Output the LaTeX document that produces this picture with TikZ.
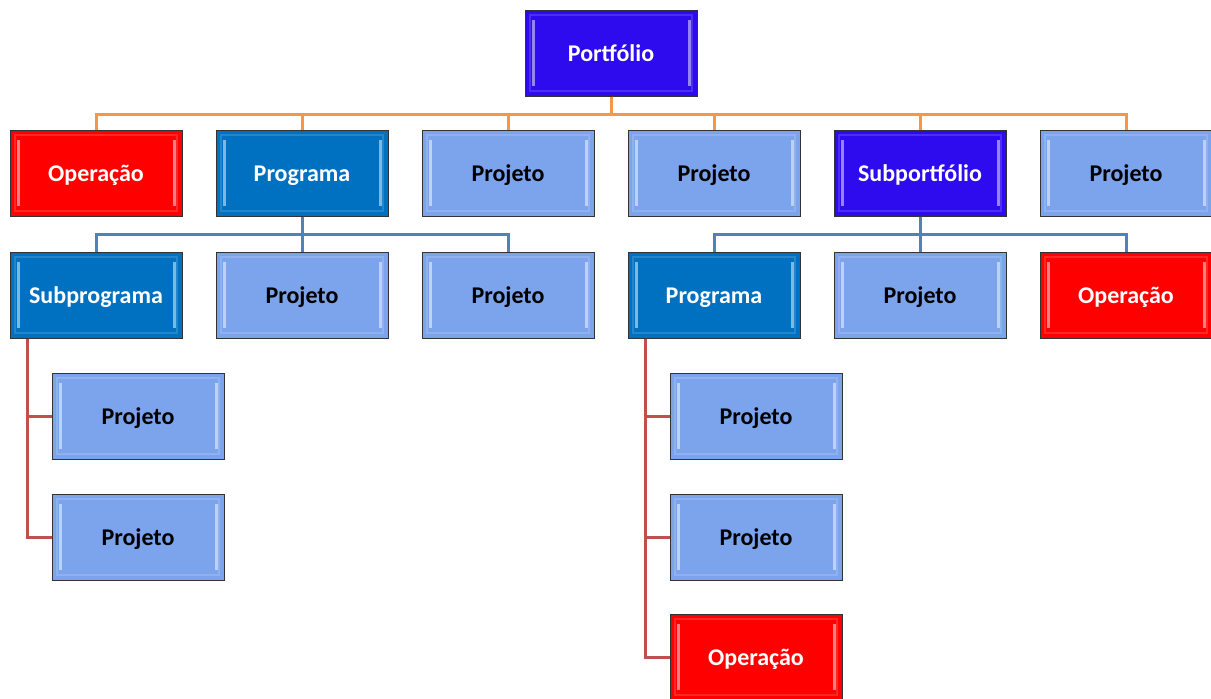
\documentclass[tikz,border=0pt]{standalone}
\usepackage{fontspec}
\setmainfont{Carlito}
\usetikzlibrary{positioning,calc}

\definecolor{portblue}{RGB}{46,10,238}
\definecolor{progblue}{RGB}{0,112,192}
\definecolor{projblue}{RGB}{124,164,236}
\definecolor{opred}{RGB}{255,0,0}
\definecolor{lineorange}{RGB}{247,150,70}
\definecolor{lineblue}{RGB}{79,129,189}
\definecolor{linered}{RGB}{192,80,77}

\tikzset{
	box/.style={rectangle, draw=black!80, line width=1pt,
		minimum width=172pt, minimum height=86pt, inner sep=0pt,
		text height=16pt, text depth=0pt,
		font=\bfseries\fontsize{24}{28}\selectfont,
		path picture={
			\draw[white, opacity=0.15, line width=2pt]
				([shift={(5pt,-5pt)}]path picture bounding box.north west)
				rectangle ([shift={(-5pt,5pt)}]path picture bounding box.south east);
			\draw[white, opacity=0.5, line width=3pt]
				([shift={(8pt,-10pt)}]path picture bounding box.north west)
				-- ([shift={(8pt,10pt)}]path picture bounding box.south west);
			\draw[white, opacity=0.5, line width=3pt]
				([shift={(-8pt,-10pt)}]path picture bounding box.north east)
				-- ([shift={(-8pt,10pt)}]path picture bounding box.south east);
		}},
	portbox/.style={box, fill=portblue, text=white},
	progbox/.style={box, fill=progblue, text=white},
	projbox/.style={box, fill=projblue, text=black},
	opbox/.style={box, fill=opred, text=white},
	tree/.style={line width=3pt, to path={-- ++(0,17.5) -| (\tikztotarget)}},
	side/.style={line width=3pt, color=linered,
		to path={($(\tikztostart.south west)+(18,0)$) |- (\tikztotarget)}},
}

\begin{document}
\begin{tikzpicture}[x=1pt, y=-1pt]
		\useasboundingbox (0,0) rectangle (1211,699);

		% level 0
		\draw (611,53) node [portbox] (port) {Portfólio};

		% level 1
		\draw (96,173) node [opbox] (op1) {Operação};
		\draw (302,173) node [progbox] (prog1) {Programa};
		\draw (508,173) node [projbox] (proj1) {Projeto};
		\draw (714,173) node [projbox] (proj2) {Projeto};
		\draw (920,173) node [portbox] (subport) {Subportfólio};
		\draw (1126,173) node [projbox] (proj3) {Projeto};

		% level 2
		\draw (96,295) node [progbox] (subprog) {Subprograma};
		\draw (302,295) node [projbox] (proj4) {Projeto};
		\draw (508,295) node [projbox] (proj5) {Projeto};
		\draw (714,295) node [progbox] (prog2) {Programa};
		\draw (920,295) node [projbox] (proj6) {Projeto};
		\draw (1126,295) node [opbox] (op2) {Operação};

		% level 3
		\draw (138,416) node [projbox] (proj7) {Projeto};
		\draw (138,537) node [projbox] (proj8) {Projeto};
		\draw (756,416) node [projbox] (proj9) {Projeto};
		\draw (756,537) node [projbox] (proj10) {Projeto};
		\draw (756,657) node [opbox] (op3) {Operação};

		\draw [color=lineorange]
			(port.south) edge [tree] (op1.north)
			(port.south) edge [tree] (prog1.north)
			(port.south) edge [tree] (proj1.north)
			(port.south) edge [tree] (proj2.north)
			(port.south) edge [tree] (subport.north)
			(port.south) edge [tree] (proj3.north)
		;
		\draw [color=lineblue]
			(prog1.south) edge [tree] (subprog.north)
			(prog1.south) edge [tree] (proj4.north)
			(prog1.south) edge [tree] (proj5.north)
			(subport.south) edge [tree] (prog2.north)
			(subport.south) edge [tree] (proj6.north)
			(subport.south) edge [tree] (op2.north)
		;
		\draw
			(subprog) edge [side] (proj7.west)
			(subprog) edge [side] (proj8.west)
			(prog2) edge [side] (proj9.west)
			(prog2) edge [side] (proj10.west)
			(prog2) edge [side] (op3.west)
		;
	\end{tikzpicture}
\end{document}
